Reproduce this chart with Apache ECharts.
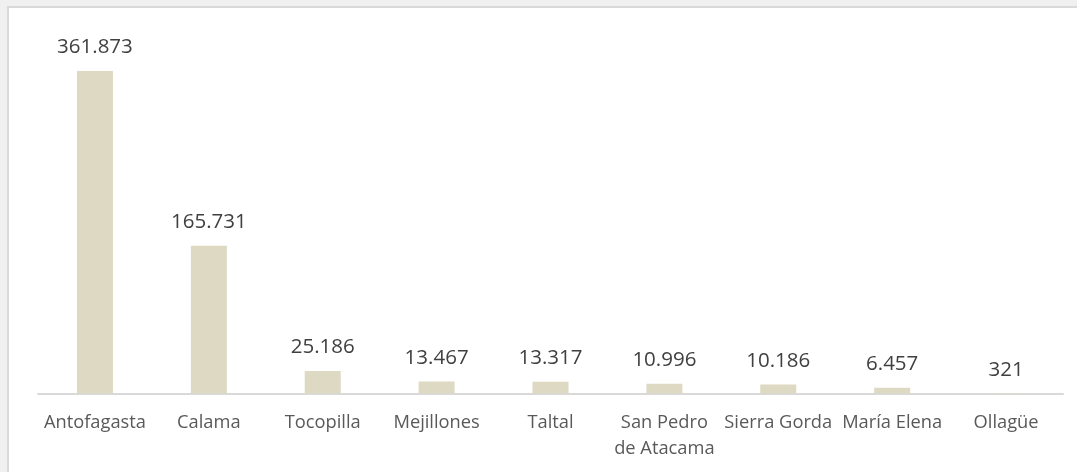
<!DOCTYPE html>
<html>
<head>
<meta charset="utf-8">
<script src="https://cdn.jsdelivr.net/npm/echarts@6/dist/echarts.min.js"></script>
<style>
html,body{margin:0;padding:0;background:#f0f0f0;}
#chart{width:1077px;height:472px;}
</style>
</head>
<body>
<div id="chart"></div>
<script>
const categories = ['Antofagasta','Calama','Tocopilla','Mejillones','Taltal','San Pedro\nde Atacama','Sierra Gorda','María Elena','Ollagüe'];
const values = [361873,165731,25186,13467,13317,10996,10186,6457,321];

const chart = echarts.init(document.getElementById('chart'));
chart.setOption({
  backgroundColor: '#f0f0f0',
  animation: false,
  graphic: [{
    type: 'rect', z: -10, silent: true,
    shape: {x: 8, y: 7, width: 1200, height: 600},
    style: {fill: '#ffffff', stroke: '#d9d9d9', lineWidth: 2}
  }],
  grid: {left: 38, right: 14, top: 37, bottom: 78.5, containLabel: false},
  xAxis: {
    type: 'category',
    data: categories,
    axisLine: {lineStyle: {color: '#d9d9d9', width: 2}},
    axisTick: {show: false},
    axisLabel: {
      color: '#595959', fontFamily: 'Open Sans', fontSize: 18.3,
      margin: 16, lineHeight: 26, interval: 0
    }
  },
  yAxis: {
    type: 'value', min: 0, max: 400000,
    show: false, splitLine: {show: false}
  },
  series: [{
    type: 'bar',
    data: values,
    barWidth: 36,
    itemStyle: {color: '#ddd9c3'},
    label: {
      show: true, position: 'top', distance: 13,
      color: '#404040', fontFamily: 'Open Sans', fontSize: 20.5,
      formatter: p => p.value.toLocaleString('de-DE')
    }
  }]
});
</script>
</body>
</html>
